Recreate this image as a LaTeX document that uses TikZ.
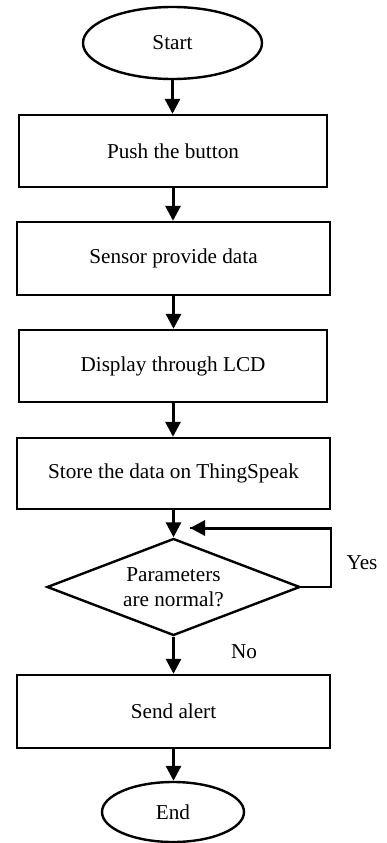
\documentclass[tikz,border=0pt]{standalone}
\usepackage{fontspec}
\setmainfont{Liberation Serif}
\usetikzlibrary{shapes.geometric,arrows.meta}

\begin{document}
\begin{tikzpicture}[x=1pt,y=-1pt,
  every node/.style={font=\fontsize{21.2}{25}\selectfont},
  boxnode/.style={draw,line width=2.4pt,rectangle,inner sep=0pt},
  term/.style={draw,line width=2.4pt,ellipse,inner sep=0pt},
  decide/.style={draw,line width=2.4pt,diamond,aspect=2.6,inner sep=0pt,align=center},
  flow/.style={line width=3pt,-{Triangle[length=15pt,width=15pt]}}]

\useasboundingbox (0,0) rectangle (386,843);

\node[term,minimum width=179pt,minimum height=72pt] (start) at (172.5,43) {Start};
\node[boxnode,minimum width=308pt,minimum height=72pt] (b1) at (173,151) {Push the button};
\node[boxnode,minimum width=313pt,minimum height=73pt] (b2) at (173.5,258.5) {Sensor provide data};
\node[boxnode,minimum width=308pt,minimum height=72pt] (b3) at (173,366) {Display through LCD};
\node[boxnode,minimum width=313pt,minimum height=71pt] (b4) at (173.5,473.5) {Store the data on ThingSpeak};
\node[decide,minimum width=253pt,minimum height=97pt] (dec) at (173.5,587) {Parameters\\are normal?};
\node[boxnode,minimum width=313pt,minimum height=73pt] (b5) at (173.5,711.5) {Send alert};
\node[term,minimum width=142pt,minimum height=60pt] (stop) at (173,812) {End};

\node (yes) at (362,563) {Yes};
\node (no) at (244,652) {No};

% main flow
\draw[flow] (start.south) -- (start.south |- b1.north);
\draw[flow] (b1.south) -- (b1.south |- b2.north);
\draw[flow] (b2.south) -- (b2.south |- b3.north);
\draw[flow] (b3.south) -- (b3.south |- b4.north);
\draw[flow] (b4.south) -- (b4.south |- dec.north);
\draw[flow] (dec.south) -- (dec.south |- b5.north);
\draw[flow] (b5.south) -- (b5.south |- stop.north);

% "Yes" loop back above the decision
\coordinate (loopend) at (190,528);
\draw[line width=2.4pt] (dec.east) -- (331,587) -- (331,528) -- (loopend);
\draw[flow] (331,528) -- (loopend);

\end{tikzpicture}
\end{document}
